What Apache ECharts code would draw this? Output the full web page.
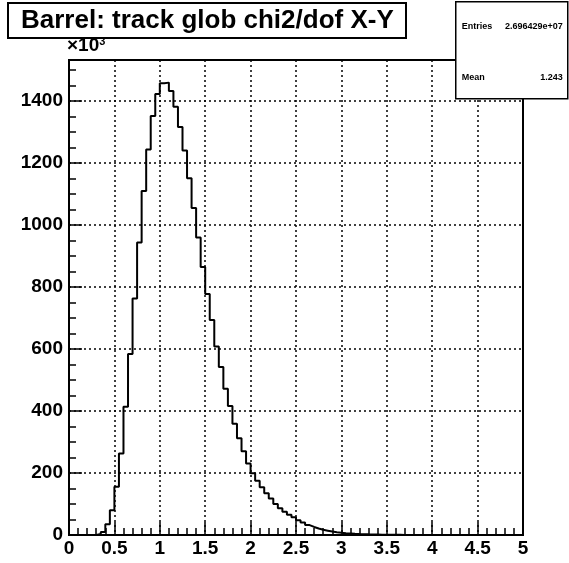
<!DOCTYPE html>
<html>
<head>
<meta charset="utf-8">
<script src="https://cdn.jsdelivr.net/npm/echarts@6/dist/echarts.min.js"></script>
<style>
html,body{margin:0;padding:0;background:#fff;}
#c{width:569px;height:563px;}
</style>
</head>
<body>
<div id="c"></div>
<script>
// Histogram of track global chi2/dof (X-Y), values in units of 10^3 entries
const binWidth = 0.05;
const xMin = 0, xMax = 5;
const counts = [
  0, 0, 0, 0, 0, 0, 3, 10, 35, 80,
  156, 263, 414, 584, 763, 944, 1110, 1244, 1352, 1423,
  1458, 1460, 1433, 1382, 1317, 1241, 1151, 1055, 960, 865,
  778, 694, 608, 542, 472, 416, 359, 312, 270, 231,
  199, 175, 154, 135, 118, 100, 86, 75, 65, 57,
  48, 40, 32, 26, 21, 17, 14, 11, 9, 7.5,
  6, 5, 4, 3.2, 2.6, 2.1, 1.7, 1.4, 1.1, 0.9,
  0.7, 0.6, 0.5, 0.4, 0.3, 0.25, 0.2, 0.2, 0.15, 0.1,
  0.1, 0.1, 0.08, 0.06, 0.05, 0.04, 0.03, 0.02, 0.02, 0.01,
  0.01, 0.01, 0, 0, 0, 0, 0, 0, 0, 0
];
const xTickLabels = ['0','0.5','1','1.5','2','2.5','3','3.5','4','4.5','5'];
const yMax = 1533;
const titleText = 'Barrel: track glob chi2/dof X-Y';
const statsLabels = ['Entries', 'Mean'];
const statsValues = ['2.696429e+07', '1.243'];

const data = counts.map((v, i) => [xMin + i * binWidth, v]);
data.push([xMax, counts[counts.length - 1]]);

const FONT = 'Liberation Sans, Arial, Helvetica, sans-serif';
const chart = echarts.init(document.getElementById('c'), null, {renderer: 'canvas'});
const dotted = {color: '#000', width: 1.5, type: [2, 3]};

chart.setOption({
  animation: false,
  backgroundColor: '#fff',
  title: {
    text: titleText,
    left: 8, top: 3,
    padding: [4, 13, 4, 13],
    borderColor: '#000', borderWidth: 2,
    backgroundColor: '#fff',
    textStyle: {fontFamily: FONT, fontWeight: 'bold', fontSize: 26, lineHeight: 27, color: '#000'}
  },
  grid: {left: 69, right: 46, top: 60, bottom: 28, show: true, borderColor: '#000', borderWidth: 2, backgroundColor: 'transparent'},
  xAxis: {
    type: 'value', min: xMin, max: xMax, interval: 0.5,
    axisLine: {show: true, onZero: false, lineStyle: {color: '#000', width: 2}},
    axisTick: {show: true, inside: true, length: 13, lineStyle: {color: '#000', width: 1.5}},
    minorTick: {show: true, splitNumber: 5, length: 7, lineStyle: {color: '#000', width: 1.5}},
    splitLine: {show: true, lineStyle: dotted},
    axisLabel: {
      color: '#000', fontFamily: FONT, fontWeight: 'bold', fontSize: 19, margin: 4,
      formatter: (v) => { const i = Math.round(v / 0.5); return xTickLabels[i] !== undefined ? xTickLabels[i] : ''; }
    }
  },
  yAxis: [{
    type: 'value', min: 0, max: yMax, interval: 200, position: 'left',
    axisLine: {show: true, onZero: false, lineStyle: {color: '#000', width: 2}},
    axisTick: {show: true, inside: true, length: 13, lineStyle: {color: '#000', width: 1.5}},
    splitLine: {show: true, lineStyle: dotted},
    axisLabel: {color: '#000', fontFamily: FONT, fontWeight: 'bold', fontSize: 19, margin: 6, showMaxLabel: false,
      formatter: (v) => String(Math.round(v))},
    name: '×10{s|3}',
    nameLocation: 'end', nameGap: 4,
    nameTextStyle: {color: '#000', fontFamily: FONT, fontWeight: 'bold', fontSize: 19, align: 'left', padding: [0, 0, 0, -2],
      rich: {s: {fontSize: 11, fontWeight: 'bold', fontFamily: FONT, color: '#000', padding: [0, 0, 9, 0]}}}
  }, {
    type: 'value', min: 0, max: yMax, interval: 50, position: 'left', offset: 0,
    axisLine: {show: false},
    axisTick: {show: true, inside: true, length: 7, lineStyle: {color: '#000', width: 1.5}},
    splitLine: {show: false},
    axisLabel: {show: false}
  }],
  series: [{
    type: 'line', step: 'end', showSymbol: false, symbol: 'none',
    yAxisIndex: 0,
    data: data,
    lineStyle: {color: '#000', width: 2},
    z: 5
  }],
  graphic: [{
    type: 'group', left: 455, top: 1, z: 100,
    children: [
      {type: 'rect', z: 100, shape: {x: 0, y: 0, width: 112, height: 97}, style: {fill: '#fff', stroke: '#000', lineWidth: 1.5}},
      {type: 'text', z: 101, x: 6, y: 25, style: {text: statsLabels[0], font: 'bold 9px ' + FONT, fill: '#000', textVerticalAlign: 'middle'}},
      {type: 'text', z: 101, x: 107, y: 25, style: {text: statsValues[0], font: 'bold 9px ' + FONT, fill: '#000', textAlign: 'right', textVerticalAlign: 'middle'}},
      {type: 'text', z: 101, x: 6, y: 76, style: {text: statsLabels[1], font: 'bold 9px ' + FONT, fill: '#000', textVerticalAlign: 'middle'}},
      {type: 'text', z: 101, x: 107, y: 76, style: {text: statsValues[1], font: 'bold 9px ' + FONT, fill: '#000', textAlign: 'right', textVerticalAlign: 'middle'}}
    ]
  }]
});
</script>
</body>
</html>
